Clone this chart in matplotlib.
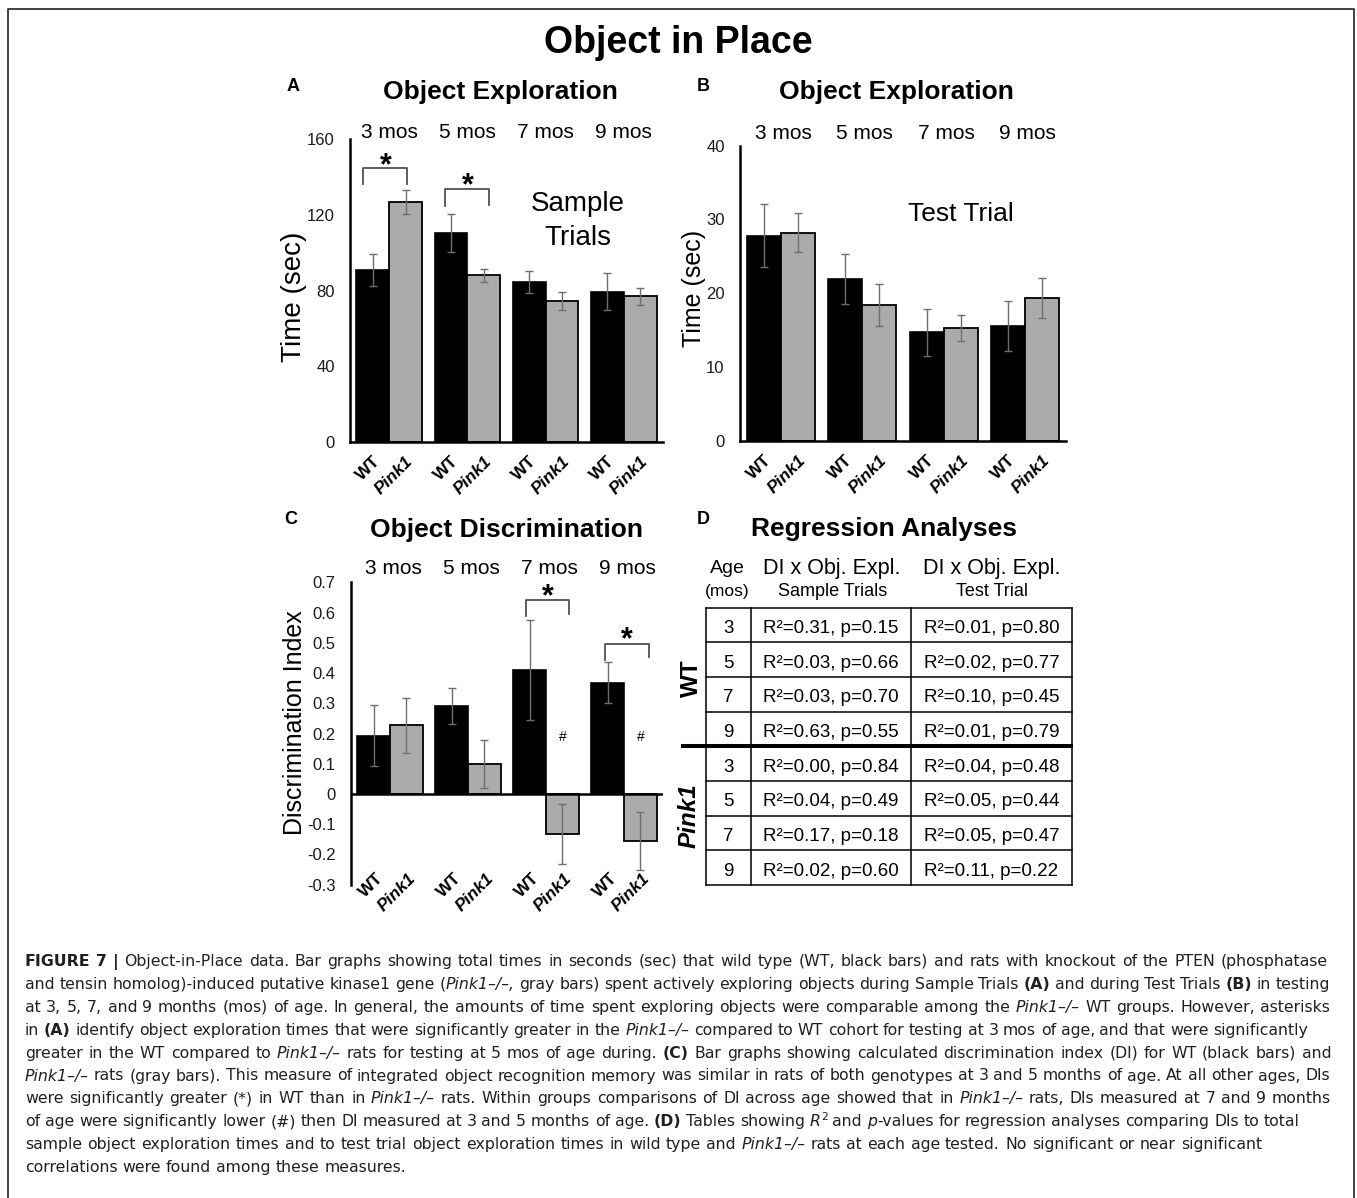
import re
import numpy as np
import matplotlib
matplotlib.use('Agg')
import matplotlib.pyplot as plt
import matplotlib.transforms as mtransforms

plt.rcParams['font.family'] = ['Liberation Sans', 'DejaVu Sans']

# ---------------- data ----------------
ages = ['3 mos', '5 mos', '7 mos', '9 mos']
genotypes = ['WT', 'Pink1']

sample_wt = [91.0, 110.5, 84.5, 79.5]
sample_wt_err = [8.5, 9.8, 6.0, 9.6]
sample_pk = [127.0, 88.0, 74.5, 77.0]
sample_pk_err = [6.5, 3.2, 5.0, 4.4]
sample_ticks = [0, 40, 80, 120, 160]

test_wt = [27.8, 21.9, 14.7, 15.6]
test_wt_err = [4.3, 3.4, 3.2, 3.4]
test_pk = [28.2, 18.4, 15.3, 19.3]
test_pk_err = [2.6, 2.8, 1.7, 2.7]
test_ticks = [0, 10, 20, 30, 40]

di_wt = [0.193, 0.290, 0.410, 0.368]
di_wt_err = [0.10, 0.06, 0.165, 0.067]
di_pk = [0.227, 0.099, -0.133, -0.155]
di_pk_err = [0.09, 0.08, 0.099, 0.097]
di_ticks = [-0.3, -0.2, -0.1, 0, 0.1, 0.2, 0.3, 0.4, 0.5, 0.6, 0.7]

table_ages = [3, 5, 7, 9]
wt_sample_r2 = [0.31, 0.03, 0.03, 0.63]
wt_sample_p = [0.15, 0.66, 0.70, 0.55]
wt_test_r2 = [0.01, 0.02, 0.10, 0.01]
wt_test_p = [0.80, 0.77, 0.45, 0.79]
pk_sample_r2 = [0.00, 0.04, 0.17, 0.02]
pk_sample_p = [0.84, 0.49, 0.18, 0.60]
pk_test_r2 = [0.04, 0.05, 0.05, 0.11]
pk_test_p = [0.48, 0.44, 0.47, 0.22]

caption_lines = [
    "**FIGURE 7 |** Object-in-Place data. Bar graphs showing total times in seconds (sec) that wild type (WT, black bars) and rats with knockout of the PTEN (phosphatase",
    "and tensin homolog)-induced putative kinase1 gene (_Pink1–/–,_ gray bars) spent actively exploring objects during Sample Trials **(A)** and during Test Trials **(B)** in testing",
    "at 3, 5, 7, and 9 months (mos) of age. In general, the amounts of time spent exploring objects were comparable among the _Pink1–/–_ WT groups. However, asterisks",
    "in **(A)** identify object exploration times that were significantly greater in the _Pink1–/–_ compared to WT cohort for testing at 3 mos of age, and that were significantly",
    "greater in the WT compared to _Pink1–/–_ rats for testing at 5 mos of age during. **(C)** Bar graphs showing calculated discrimination index (DI) for WT (black bars) and",
    "_Pink1–/–_ rats (gray bars). This measure of integrated object recognition memory was similar in rats of both genotypes at 3 and 5 months of age. At all other ages, DIs",
    "were significantly greater (*) in WT than in _Pink1–/–_ rats. Within groups comparisons of DI across age showed that in _Pink1–/–_ rats, DIs measured at 7 and 9 months",
    "of age were significantly lower (#) then DI measured at 3 and 5 months of age. **(D)** Tables showing _R_^2^ and _p_-values for regression analyses comparing DIs to total",
    "sample object exploration times and to test trial object exploration times in wild type and _Pink1–/–_ rats at each age tested. No significant or near significant",
    "correlations were found among these measures.",
]
caption_right = [1328, 1330, 1330, 1308, 1331, 1330, 1331, 1300, 1262, None]

# ---------------- layout ----------------
W, H = 1357, 1198
PT = 100 / 72.0
GRAY = '#ababab'
ECOL = '#6e6e6e'
BCOL = '#505050'

fig = plt.figure(figsize=(W / 100, H / 100), dpi=100)
fig.patch.set_facecolor('white')
ov = fig.add_axes([0, 0, 1, 1], zorder=0)
ov.set_xlim(0, W)
ov.set_ylim(H, 0)
ov.axis('off')


def add_ax_px(left, top, right, bottom):
    ax = fig.add_axes([left / W, 1 - bottom / H, (right - left) / W, (bottom - top) / H], zorder=1)
    ax.patch.set_alpha(0)
    return ax


def txt(x, yc, s, size, ha='center', **kw):
    return ov.text(x, yc + 0.358 * size * PT, s, fontsize=size, va='baseline', ha=ha, **kw)


# frame
ov.plot([8, 8, 1354, 1354], [1205, 9, 9, 1205], color='#333333', lw=1.3, clip_on=False)

# main title
txt(678, 40, 'Object in Place', 27, fontweight='bold')

x = np.arange(len(ages))
BW = 0.42


def bar_panel(rect, wt, wte, pk, pke, ylim, yticks):
    ax = add_ax_px(*rect)
    ax.bar(x - BW / 2, wt, BW, color='black', edgecolor='black', lw=1.2, zorder=2)
    ax.bar(x + BW / 2, pk, BW, color=GRAY, edgecolor='black', lw=1.3, zorder=2)
    ax.errorbar(x - BW / 2, wt, yerr=wte, fmt='none', ecolor=ECOL, elinewidth=1.0,
                capsize=2.6, capthick=1.0, zorder=3)
    ax.errorbar(x + BW / 2, pk, yerr=pke, fmt='none', ecolor=ECOL, elinewidth=1.0,
                capsize=2.6, capthick=1.0, zorder=3)
    ax.set_xlim(-0.5, 3.5)
    ax.set_ylim(*ylim)
    ax.set_yticks(yticks)
    ax.set_yticklabels([f'{v:g}' for v in yticks])
    ax.set_xticks([])
    ax.tick_params(axis='y', length=0, pad=11, labelsize=12, labelcolor='#1a1a1a')
    for s in ['top', 'right']:
        ax.spines[s].set_visible(False)
    for s in ['left', 'bottom']:
        ax.spines[s].set_linewidth(1.8)
    return ax


def geno_labels(ax, ybase, dx_px, dy_px):
    off = mtransforms.ScaledTranslation(dx_px / 100, -dy_px / 100, fig.dpi_scale_trans)
    for i in range(len(ages)):
        for j, g in enumerate(genotypes):
            xc = x[i] + (j - 0.5) * BW
            ax.text(xc, ybase, g, transform=ax.transData + off, rotation=45,
                    rotation_mode='anchor', ha='right', va='center', fontsize=12.5,
                    fontweight='bold', fontstyle='italic' if g == 'Pink1' else 'normal',
                    clip_on=False)


def month_labels(ax, yc, dx=0.0):
    tr = mtransforms.blended_transform_factory(ax.transData, ov.transData)
    for i, a in enumerate(ages):
        ov.text(x[i] + dx, yc + 0.358 * 15 * PT, a, transform=tr, fontsize=15,
                ha='center', va='baseline')


def bracket(ax, x0, x1, ytop, yl, yr, ast_x, ast_y, size=22):
    ax.plot([x0, x0, x1, x1], [yl, ytop, ytop, yr], color=BCOL, lw=1.3, clip_on=False, zorder=4)
    off = mtransforms.ScaledTranslation(0, -0.56 * size * PT / 100, fig.dpi_scale_trans)
    ax.text(ast_x, ast_y, '*', transform=ax.transData + off, fontsize=size,
            fontweight='bold', ha='center', va='baseline', clip_on=False)


# ---------- Panel A ----------
axA = bar_panel((350, 139.5, 663, 441.7), sample_wt, sample_wt_err, sample_pk, sample_pk_err,
                (0, 160), sample_ticks)
geno_labels(axA, 0, 5, 17)
month_labels(axA, 130.5)
bracket(axA, -0.33, 0.23, 144.7, 136.2, 136.6, -0.045, 150.8)
bracket(axA, 0.71, 1.276, 133.6, 125.0, 125.5, 1.004, 140.0)
txt(293, 85, 'A', 13, fontweight='bold')
txt(500, 90, 'Object Exploration', 19, fontweight='bold')
txt(578, 201.3, 'Sample', 20)
txt(578, 235, 'Trials', 20)
ov.text(294, 297, 'Time (sec)', fontsize=20, rotation=90, ha='center', va='center')

# ---------- Panel B ----------
axB = bar_panel((740, 145.5, 1066, 441), test_wt, test_wt_err, test_pk, test_pk_err,
                (0, 40), test_ticks)
geno_labels(axB, 0, 5, 17)
month_labels(axB, 131.7, dx=0.03)
txt(703, 85, 'B', 13, fontweight='bold')
txt(896, 90, 'Object Exploration', 19, fontweight='bold')
txt(961, 212, 'Test Trial', 19)
ov.text(694, 288, 'Time (sec)', fontsize=18, rotation=90, ha='center', va='center')

# ---------- Panel C ----------
axC = bar_panel((351, 582.3, 663, 884.7), di_wt, di_wt_err, di_pk, di_pk_err,
                (-0.3, 0.7), di_ticks)
axC.spines['bottom'].set_visible(False)
axC.axhline(0, color='black', lw=1.8, zorder=2.5)
geno_labels(axC, -0.3, 7, -9)
month_labels(axC, 567, dx=0.05)
bracket(axC, 1.744, 2.295, 0.642, 0.589, 0.596, 2.026, 0.681)
bracket(axC, 2.756, 3.32, 0.496, 0.4435, 0.4535, 3.035, 0.537)
for i in [2, 3]:
    axC.text(x[i] + BW / 2, 0.19, '#', fontsize=10, ha='center', va='center')
txt(291, 517.5, 'C', 13, fontweight='bold')
txt(507, 527.5, 'Object Discrimination', 19, fontweight='bold')
ov.text(295, 723, 'Discrimination Index', fontsize=18, rotation=90, ha='center', va='center')

# ---------- Panel D (table) ----------
txt(703, 517.5, 'D', 13, fontweight='bold')
txt(884, 527, 'Regression Analyses', 19, fontweight='bold')
txt(727, 566.5, 'Age', 14)
txt(727, 590, '(mos)', 12.5)
txt(832, 566.5, 'DI x Obj. Expl.', 15.5)
txt(833, 590, 'Sample Trials', 13)
txt(991.5, 566.5, 'DI x Obj. Expl.', 15.5)
txt(991.5, 590, 'Test Trial', 13)

tx = [706, 751, 911, 1072]
t_top, t_bot = 607.5, 885.0
nrows = 2 * len(table_ages)
rh = (t_bot - t_top) / nrows
for xv in tx:
    ov.plot([xv, xv], [t_top, t_bot], color='black', lw=1.1)
for r in range(nrows + 1):
    yv = t_top + r * rh
    if r == len(table_ages):
        ov.plot([681, 1073], [yv, yv], color='black', lw=2.9, solid_capstyle='butt')
    else:
        ov.plot([tx[0], tx[-1]], [yv, yv], color='black', lw=1.1)

rows = []
for k, a in enumerate(table_ages):
    rows.append((a, wt_sample_r2[k], wt_sample_p[k], wt_test_r2[k], wt_test_p[k]))
for k, a in enumerate(table_ages):
    rows.append((a, pk_sample_r2[k], pk_sample_p[k], pk_test_r2[k], pk_test_p[k]))
for r, (a, r2s, ps, r2t, pt) in enumerate(rows):
    yc = t_top + (r + 0.5) * rh + 1.5
    txt((tx[0] + tx[1]) / 2, yc, str(a), 13.5)
    txt((tx[1] + tx[2]) / 2, yc, f'R²={r2s:.2f}, p={ps:.2f}', 13.5)
    txt((tx[2] + tx[3]) / 2, yc, f'R²={r2t:.2f}, p={pt:.2f}', 13.5)

ov.text(691, 678, 'WT', fontsize=17.5, fontweight='bold', rotation=90, ha='center', va='center')
ov.text(689, 816, 'Pink1', fontsize=17.5, fontweight='bold', fontstyle='italic',
        rotation=90, ha='center', va='center')

# ---------- Caption ----------
CAP_FONT = ['DejaVu Sans']
CAP_COL = '#231f20'
CAP_X0 = 25
CAP_Y0 = 966
CAP_DY = 22.9


def parse(line):
    parts = re.split(r'(\*\*.+?\*\*|_.+?_|\^.+?\^)', line)
    segs = []
    for p in parts:
        if not p:
            continue
        if p.startswith('**'):
            segs.append((p[2:-2], 'b'))
        elif p.startswith('_'):
            segs.append((p[1:-1], 'i'))
        elif p.startswith('^'):
            segs.append((p[1:-1], 's'))
        else:
            segs.append((p, 'n'))
    words = [[]]
    for text, st in segs:
        pieces = text.split(' ')
        for k, pc in enumerate(pieces):
            if k > 0:
                words.append([])
            if pc:
                words[-1].append((pc, st))
    return [w for w in words if w]


renderer = fig.canvas.get_renderer()


def mk(text, st, size):
    kw = dict(fontsize=size, family=CAP_FONT, color=CAP_COL, va='baseline', ha='left')
    if st == 'b':
        kw['fontweight'] = 'bold'
    if st == 'i':
        kw['fontstyle'] = 'italic'
    if st == 's':
        kw['fontsize'] = size * 0.68
    return ov.text(0, 0, text, **kw)


def width(t):
    return t.get_window_extent(renderer).width


parsed = [parse(l) for l in caption_lines]

# determine size from natural widths
base = 10.0
ratios = []
for words, tgt in zip(parsed, caption_right):
    if tgt is None:
        continue
    tot = 0
    for w in words:
        for s, st in w:
            t = mk(s, st, base)
            tot += width(t)
            t.remove()
    ta, tb = mk('a a', 'n', base), mk('aa', 'n', base)
    sp = width(ta) - width(tb)
    ta.remove(); tb.remove()
    tot += sp * (len(words) - 1)
    ratios.append((tgt - CAP_X0) / tot)
size = base * float(np.median(ratios))

ta, tb = mk('a a', 'n', size), mk('aa', 'n', size)
space = width(ta) - width(tb)
ta.remove(); tb.remove()

for li, (words, tgt) in enumerate(zip(parsed, caption_right)):
    yb = CAP_Y0 + li * CAP_DY
    objs = []
    wsum = 0
    for w in words:
        row = []
        ww = 0
        for s, st in w:
            t = mk(s, st, size)
            wd = width(t)
            row.append((t, wd, st))
            ww += wd
        objs.append((row, ww))
        wsum += ww
    if tgt is not None and len(words) > 1:
        gap = (tgt - CAP_X0 - wsum) / (len(words) - 1)
    else:
        gap = space
    xc = CAP_X0
    for row, ww in objs:
        for t, wd, st in row:
            yy = yb - 0.42 * size * PT if st == 's' else yb
            t.set_position((xc, yy))
            xc += wd
        xc += gap

fig.savefig('out.png', dpi=100)
